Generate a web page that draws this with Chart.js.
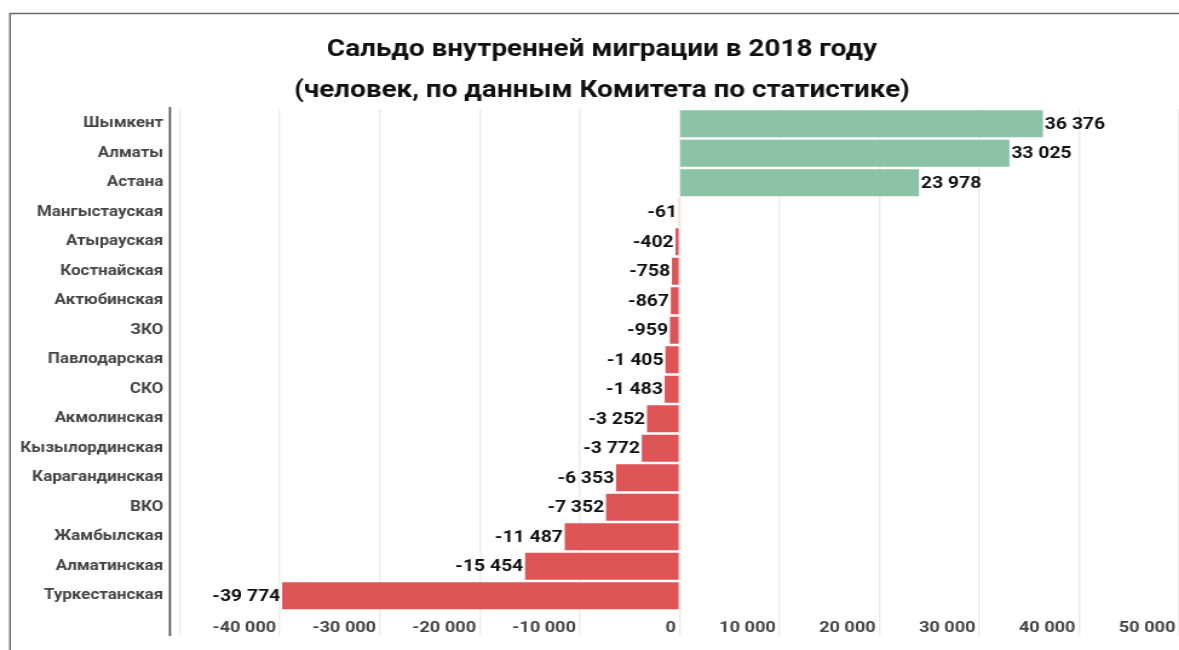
<!DOCTYPE html>
<html>
<head>
<meta charset="utf-8">
<script src="https://cdn.jsdelivr.net/npm/chart.js@4.4.1/dist/chart.umd.min.js"></script>
<style>
  html, body { margin: 0; padding: 0; background: #ffffff; overflow: hidden; }
  #wrap { width: 974px; height: 650px; transform: scaleX(1.2105); transform-origin: 0 0; }
  #c { width: 974px; height: 650px; display: block; }
</style>
</head>
<body>
<div id="wrap"><canvas id="c" width="974" height="650"></canvas></div>
<script>
const categories = ["Шымкент", "Алматы", "Астана", "Мангыстауская", "Атырауская", "Костнайская", "Актюбинская", "ЗКО", "Павлодарская", "СКО", "Акмолинская", "Кызылординская", "Карагандинская", "ВКО", "Жамбылская", "Алматинская", "Туркестанская"];
const values = [36376, 33025, 23978, -61, -402, -758, -867, -959, -1405, -1483, -3252, -3772, -6353, -7352, -11487, -15454, -39774];
const xTicks = [-50000, -40000, -30000, -20000, -10000, 0, 10000, 20000, 30000, 40000, 50000];
const titleLines = ["Сальдо внутренней миграции в 2018 году", "(человек, по данным Комитета по статистике)"];

const GREEN = '#8cc3a6';
const RED = '#de5457';

function fmt(v) {
  const s = Math.abs(v).toString().replace(/\B(?=(\d{3})+(?!\d))/g, ' ');
  return (v < 0 ? '-' : '') + s;
}

const framePlugin = {
  id: 'frame',
  afterLayout(chart) {
    // let long category labels extend left of the axis box without being clipped
    chart.scales.y.left = 0;
  },
  beforeDraw(chart) {
    const ctx = chart.ctx;
    ctx.save();
    ctx.strokeStyle = '#6a6a6a';
    ctx.lineWidth = 1.5;
    ctx.beginPath();
    ctx.moveTo(chart.width, 13.5);
    ctx.lineTo(8.3, 13.5);
    ctx.lineTo(8.3, 650);
    ctx.stroke();
    ctx.restore();
  },
  afterDraw(chart) {
    const ctx = chart.ctx;
    const x = chart.chartArea.left;
    ctx.save();
    ctx.strokeStyle = '#555555';
    ctx.lineWidth = 1.7;
    ctx.beginPath();
    ctx.moveTo(x, chart.chartArea.top - 2);
    ctx.lineTo(x, 636);
    ctx.stroke();
    ctx.restore();
  }
};

const valueLabels = {
  id: 'valueLabels',
  afterDatasetsDraw(chart) {
    const ctx = chart.ctx;
    const meta = chart.getDatasetMeta(0);
    ctx.save();
    ctx.font = 'bold 16px Roboto';
    ctx.fillStyle = '#111111';
    ctx.textBaseline = 'middle';
    meta.data.forEach((bar, i) => {
      const v = chart.data.datasets[0].data[i];
      if (v >= 0) {
        ctx.textAlign = 'left';
        ctx.fillText(fmt(v), bar.x + 1.5, bar.y + 1);
      } else {
        ctx.textAlign = 'right';
        ctx.fillText(fmt(v), bar.x - 1.5, bar.y + 1);
      }
    });
    ctx.restore();
  }
};

new Chart(document.getElementById('c'), {
  type: 'bar',
  data: {
    labels: categories,
    datasets: [{
      data: values,
      backgroundColor: ctx => (ctx.raw >= 0 ? GREEN : RED),
      borderWidth: 0,
      barPercentage: 0.92,
      categoryPercentage: 1.0
    }]
  },
  options: {
    indexAxis: 'y',
    responsive: false,
    animation: false,
    devicePixelRatio: 1,
    layout: { padding: { left: 20.6, right: 0, top: 0, bottom: 0 } },
    plugins: {
      legend: { display: false },
      tooltip: { enabled: false },
      title: {
        display: true,
        text: titleLines,
        color: '#111111',
        font: { family: 'Roboto', weight: 'bold', size: 23, lineHeight: '41px' },
        padding: { top: 30, bottom: -3 }
      }
    },
    scales: {
      x: {
        type: 'linear',
        min: -51000,
        max: 50000,
        afterBuildTicks: scale => { scale.ticks = xTicks.map(v => ({ value: v })); },
        afterFit: scale => { scale.height = 39.5; },
        grid: { color: '#ebebeb', lineWidth: 1.4, drawTicks: true, tickLength: 25, tickColor: '#ebebeb' },
        border: { display: false },
        ticks: {
          align: 'end',
          labelOffset: -3,
          padding: -16,
          color: '#444444',
          font: { family: 'Roboto', weight: 'bold', size: 15 },
          callback: v => (v === -50000 ? '' : fmt(v)),
          maxRotation: 0,
          autoSkip: false
        }
      },
      y: {
        type: 'category',
        afterFit: scale => { scale.width = 119.8; },
        grid: { display: false, drawTicks: false },
        border: { display: false },
        ticks: {
          color: '#444444',
          padding: 5.5,
          font: { family: 'Roboto', weight: 'bold', size: 14 },
          autoSkip: false
        }
      }
    }
  },
  plugins: [framePlugin, valueLabels]
});
</script>
</body>
</html>
